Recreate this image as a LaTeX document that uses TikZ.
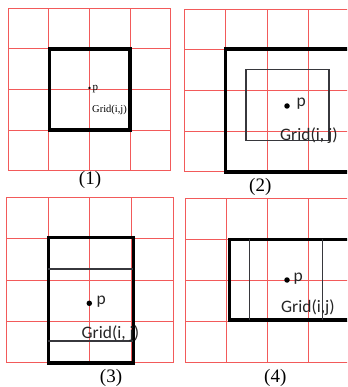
\documentclass[tikz,border=0pt]{standalone}
\usepackage{fontspec}
\setmainfont{Liberation Serif}
\newfontfamily\calib{Carlito}
\definecolor{gridred}{RGB}{242,90,90}
\definecolor{inkgray}{RGB}{55,55,60}

\begin{document}
\begin{tikzpicture}[
  x=1pt,y=-1pt,
  gridline/.style={gridred,line width=1pt},
  frame/.style={black,line width=3.6pt},
  inner/.style={inkgray,line width=1.2pt},
  dotp/.style={circle,fill=black,inner sep=0pt,minimum size=5.5pt},
  lbl/.style={font=\calib\fontsize{17.5}{19}\selectfont,text=black!85,inner sep=0pt,anchor=west},
  panelcap/.style={font=\fontsize{19}{21}\selectfont,inner sep=0pt}
]
  \useasboundingbox (0,0) rectangle (347,387);
  \clip (0,0) rectangle (347,387);

  % red grids
  \foreach \k in {0,...,4} {
    \draw[gridline] (8.3+40.6*\k,8.3) -- (8.3+40.6*\k,170.7);
    \draw[gridline] (8.3,8.3+40.6*\k) -- (170.7,8.3+40.6*\k);
    \draw[gridline] (184.7+41.2*\k,9.3) -- (184.7+41.2*\k,171.7);
    \draw[gridline] (184.7,9.3+40.6*\k) -- (350,9.3+40.6*\k);
    \draw[gridline] (6.7+41.6*\k,197.3) -- (6.7+41.6*\k,362.7);
    \draw[gridline] (6.7,197.3+41.35*\k) -- (173.3,197.3+41.35*\k);
    \draw[gridline] (185.3+41*\k,198.3) -- (185.3+41*\k,362.7);
    \draw[gridline] (185.3,198.3+41.1*\k) -- (350,198.3+41.1*\k);
  }

  % (1)
  \draw[frame] (49.3,49.3) rectangle (130,130);
  \node[circle,fill=black,inner sep=0pt,minimum size=2.8pt] (p1) at (89.5,88) {};
  \node[anchor=west,inner sep=0pt,font=\fontsize{11}{13}\selectfont] (t1) at (92.5,89.5) {p};
  \node[anchor=west,inner sep=0pt,font=\fontsize{10.5}{12}\selectfont] (g1) at (92,110) {Grid(i,j)};
  \node[panelcap] (c1) at (90,180) {(1)};

  % (2)
  \draw[frame] (225.3,49.3) rectangle (360,171.7);
  \draw[inner] (246,69.3) rectangle (329,140.7);
  \node[dotp] (p2) at (287,106) {};
  \node[lbl] (t2) at (296.5,104) {p};
  \node[lbl] (g2) at (280,136) {Grid(i, j)};
  \node[panelcap] (c2) at (260.3,186.7) {(2)};

  % (3)
  \draw[frame] (48.3,237.3) rectangle (133.3,362.7);
  \draw[inner] (48.3,269) -- (133.3,269);
  \draw[inner] (48.3,341) -- (133.3,341);
  \node[dotp] (p3) at (89.3,303.3) {};
  \node[lbl] (t3) at (96.5,301.5) {p};
  \node[lbl] (g3) at (81.5,333.5) {Grid(i, j)};
  \node[panelcap] (c3) at (111,378.3) {(3)};

  % (4)
  \draw[frame] (229.3,239.3) rectangle (360,320);
  \draw[inner] (249.7,239.3) -- (249.7,320);
  \draw[inner] (322.5,239.3) -- (322.5,320);
  \node[dotp] (p4) at (287,280) {};
  \node[lbl] (t4) at (293.5,278.3) {p};
  \node[lbl] (g4) at (281,307.8) {Grid(i,j)};
  \node[panelcap] (c4) at (275.3,378.3) {(4)};
\end{tikzpicture}
\end{document}
